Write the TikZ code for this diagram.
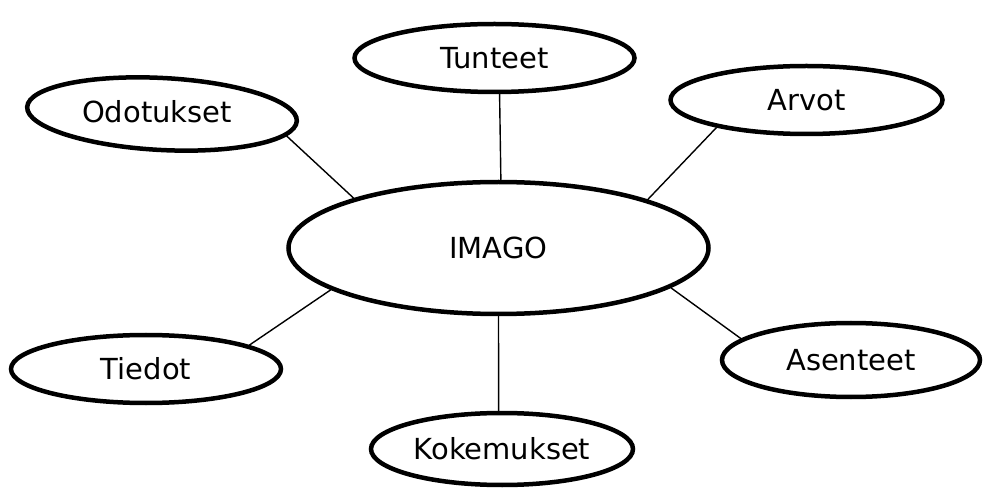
\documentclass[tikz,border=0pt]{standalone}
\usepackage{fontspec}
\setmainfont{DejaVu Sans}
\usetikzlibrary{shapes.geometric}
\begin{document}
\begin{tikzpicture}[x=1pt,y=-1pt,
  oval/.style={ellipse,draw,line width=4.5pt,inner sep=0pt},
  lbl/.style={font=\fontsize{29}{34}\selectfont,inner sep=0pt},
  link/.style={line width=1.4pt}]
\useasboundingbox (0,0) rectangle (989,489);
\node[oval,minimum width=420,minimum height=132] (imago) at (498.5,248) {};
\node[oval,minimum width=280,minimum height=68] (tunteet) at (494.5,58) {};
\node[oval,minimum width=270,minimum height=72,rotate=-3] (odotukset) at (162,114) {};
\node[oval,minimum width=272,minimum height=68] (arvot) at (806.5,100) {};
\node[oval,minimum width=270,minimum height=68] (tiedot) at (146,369) {};
\node[oval,minimum width=258,minimum height=74] (asenteet) at (851,360) {};
\node[oval,minimum width=262,minimum height=72] (kokemukset) at (502,449) {};
\node[lbl] (timago) at (imago) {IMAGO};
\node[lbl] (ttunteet) at (tunteet) {Tunteet};
\node[lbl] (todotukset) at (157,112) {Odotukset};
\node[lbl] (tarvot) at (arvot) {Arvot};
\node[lbl] (ttiedot) at (tiedot) {Tiedot};
\node[lbl] (tasenteet) at (asenteet) {Asenteet};
\node[lbl] (tkokemukset) at (kokemukset) {Kokemukset};
\draw[link] (tunteet.278.6) -- (imago.88.7);
\draw[link] (kokemukset.95.2) -- (imago.270);
\draw[link] (odotukset.-7.6) -- (imago.161.4);
\draw[link] (arvot.197.6) -- (imago.18.55);
\draw[link] (tiedot.13.75) -- (imago.194.7);
\draw[link] (asenteet.169) -- (imago.-13.5);
\end{tikzpicture}
\end{document}
